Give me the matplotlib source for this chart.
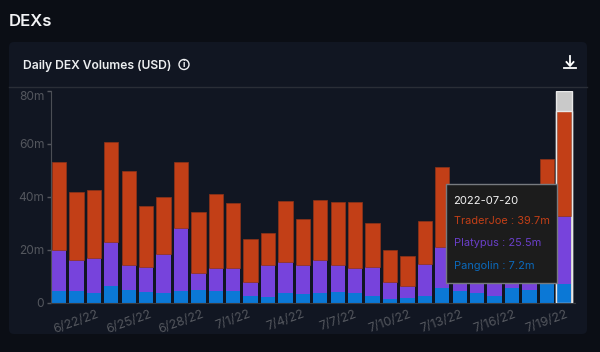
import matplotlib
matplotlib.use("Agg")
import matplotlib.pyplot as plt
from matplotlib.patches import FancyBboxPatch, Rectangle, Circle

plt.rcParams["font.family"] = ["Inter", "DejaVu Sans"]

dates = ["6/21/22", "6/22/22", "6/23/22", "6/24/22", "6/25/22", "6/26/22", "6/27/22", "6/28/22",
         "6/29/22", "6/30/22", "7/1/22", "7/2/22", "7/3/22", "7/4/22", "7/5/22", "7/6/22",
         "7/7/22", "7/8/22", "7/9/22", "7/10/22", "7/11/22", "7/12/22", "7/13/22", "7/14/22",
         "7/15/22", "7/16/22", "7/17/22", "7/18/22", "7/19/22", "7/20/22"]

# stack tops, in millions. 23-28 sit behind the tooltip so those are guesses
total = [53.2, 41.8, 42.4, 60.8, 49.8, 36.4, 39.9, 53.0, 34.3, 41.2, 37.7, 23.9, 26.4, 38.4, 31.7,
         38.8, 38.0, 38.0, 30.2, 19.9, 17.8, 30.7, 51.3, 33.0, 30.0, 36.0, 38.0, 40.0, 54.3, 72.4]
platypus_top = [20.0, 16.0, 17.0, 22.8, 14.2, 13.6, 18.4, 28.3, 11.2, 13.2, 13.1, 7.8, 14.2, 15.4, 14.1,
                16.1, 14.2, 13.2, 13.6, 7.9, 6.4, 14.5, 21.0, 10.0, 9.5, 9.0, 12.0, 10.0, 16.0, 32.7]
pangolin = [4.4, 4.3, 3.8, 6.3, 4.8, 4.2, 3.7, 4.4, 4.8, 4.3, 4.4, 2.6, 2.1, 3.7, 3.4,
            3.7, 4.0, 3.5, 2.5, 1.4, 1.8, 2.6, 5.7, 4.4, 3.8, 2.4, 5.7, 4.8, 7.3, 7.2]

tick_idx = [1, 4, 7, 10, 13, 16, 19, 22, 25, 28]
y_ticks = [0, 20, 40, 60, 80]
y_labels = ["0", "20m", "40m", "60m", "80m"]

RED = "#c23f17"
PURPLE = "#7743dc"
BLUE = "#0b78d6"
GREY = "#54575e"

W, H = 600, 352
fig = plt.figure(figsize=(6, 3.52), dpi=100, facecolor="#0b0e15")


def px_axes(z):
    a = fig.add_axes([0, 0, 1, 1], zorder=z)
    a.set_xlim(0, W)
    a.set_ylim(H, 0)
    a.axis("off")
    a.patch.set_alpha(0)
    return a


# page and card
bg = px_axes(0)
bg.add_patch(FancyBboxPatch((13, 46), 570, 284, boxstyle="round,pad=4,rounding_size=5",
                            fc="#111622", ec="none"))
bg.plot([9, 587], [87.3, 87.3], color="#2a2e37", lw=1)
bg.text(9, 21, "DEXs", color="#f2f3f5", fontsize=12, fontweight="semibold", va="center")
bg.text(23, 66, "Daily DEX Volumes (USD)", color="#eceef0", fontsize=8.7, fontweight="semibold", va="center")
bg.add_patch(Circle((184, 64.5), 5, fc="none", ec="#eceef0", lw=1))
bg.text(184, 64.7, "i", color="#eceef0", fontsize=6.5, fontweight="bold", ha="center", va="center")
# download icon
bg.plot([570, 570], [56, 65], color="white", lw=1.3)
bg.plot([566.5, 570, 573.5], [62, 66, 62], color="white", lw=1.3)
bg.plot([564, 576], [68.3, 68.3], color="white", lw=1.3)

# bars
x0, x1, y_top, y_bot = 50.5, 574.5, 91.0, 302.7
ax = fig.add_axes([x0 / W, 1 - y_bot / H, (x1 - x0) / W, (y_bot - y_top) / H], zorder=1)
ax.patch.set_alpha(0)
xs = list(range(len(dates)))
platypus = [p - b for p, b in zip(platypus_top, pangolin)]
trader = [t - p for t, p in zip(total, platypus_top)]

ax.bar(29, 80, width=0.94, color="#c9c9c9", edgecolor="#e8e8e8", linewidth=1, zorder=1)
ax.bar(xs, pangolin, width=0.82, color=BLUE, linewidth=0, zorder=2)
ax.bar(xs, platypus, bottom=pangolin, width=0.82, color=PURPLE, linewidth=0, zorder=2)
ax.bar(xs, trader, bottom=platypus_top, width=0.82, color=RED, edgecolor="#8f3418", linewidth=0.5, zorder=2)
ax.add_patch(Rectangle((28.53, 0), 0.94, total[29], fc="none", ec="#e8e8e8", lw=1, zorder=3))

ax.set_xlim(-0.488, 29.59)
ax.set_ylim(0, 80)
ax.set_yticks(y_ticks)
ax.set_yticklabels(y_labels)
ax.get_yticklabels()[-1].set_verticalalignment("top")  # top label stays inside the chart
ax.set_xticks(tick_idx)
ax.set_xticklabels([dates[i] for i in tick_idx], rotation=20, ha="center")
ax.tick_params(axis="y", colors=GREY, labelsize=8.6, length=3, width=1, pad=1.5)
ax.tick_params(axis="x", colors=GREY, labelsize=9, length=0, pad=4)
for s in ["top", "right"]:
    ax.spines[s].set_visible(False)
ax.spines["left"].set_color("#4b4e55")
ax.spines["bottom"].set_color("#3a3c42")

# tooltip
top = px_axes(2)
top.add_patch(Rectangle((446, 184), 111, 99, fc="#1c1c1c", ec="#777a7f", lw=1))
top.text(453.5, 200.5, "2022-07-20", color="#f2f2f2", fontsize=8.1, va="center")
top.text(453.5, 221, "TraderJoe : 39.7m", color=RED, fontsize=7.9, va="center")
top.text(453.5, 243.5, "Platypus : 25.5m", color="#6a3fc9", fontsize=7.9, va="center")
top.text(453.5, 266, "Pangolin : 7.2m", color="#0b69bb", fontsize=7.9, va="center")

fig.savefig("out.png", dpi=100, facecolor=fig.get_facecolor())
